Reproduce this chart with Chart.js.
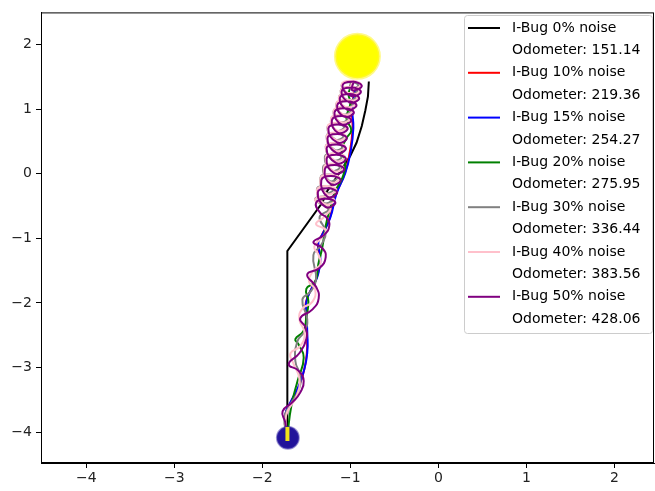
<!DOCTYPE html>
<html>
<head>
<meta charset="utf-8">
<script src="https://cdn.jsdelivr.net/npm/chart.js@4"></script>
<style>
  body { margin: 0; background: #fff; }
  #wrap { width: 655px; height: 491px; }
</style>
</head>
<body>
<div id="wrap"><canvas id="grafico" width="655" height="491"></canvas></div>
<script>
// Datos
const noiseLevels = [0, 10, 15, 20, 30, 40, 50];
const odometer = [151.14, 219.36, 254.27, 275.95, 336.44, 383.56, 428.06];
const colores = ["#000000", "#ff0000", "#0000ff", "#008000", "#808080", "#ffc0cb", "#800080"];
const xTicks = [-4, -3, -2, -1, 0, 1, 2];
const yTicks = [-4, -3, -2, -1, 0, 1, 2];
const startPos = [-1.71, -4.09];
const goalPos = [-0.92, 1.82];

const path0 = [[-1.716,-4.06],[-1.716,-1.196],[-1.318,-0.445],[-1.26,-0.26],[-1.16,-0.06],[-1.07,0.13],
  [-1.0,0.28],[-0.93,0.48],[-0.87,0.74],[-0.83,0.98],[-0.80,1.2],[-0.79,1.43]];

const path10 = [[-1.716,-4.06],[-1.74,-3.75],[-1.67,-3.52],[-1.60,-3.34],[-1.535,-3.09],[-1.495,-2.79],
  [-1.495,-2.45],[-1.505,-2.17],[-1.505,-1.99],[-1.435,-1.76],[-1.38,-1.60],[-1.345,-1.34],[-1.37,-1.07],
  [-1.325,-0.95],[-1.235,-0.69],[-1.17,-0.34],[-1.065,0.0],[-1.01,0.31],[-0.975,0.70],[-0.985,1.0],
  [-0.95,1.31]];

const path15 = [[-1.716,-4.06],[-1.74,-3.74],[-1.67,-3.51],[-1.60,-3.33],[-1.534,-3.08],[-1.49,-2.78],
  [-1.49,-2.44],[-1.50,-2.16],[-1.50,-1.98],[-1.43,-1.75],[-1.375,-1.595],[-1.34,-1.33],[-1.364,-1.06],
  [-1.318,-0.94],[-1.227,-0.675],[-1.16,-0.32],[-1.057,0.015],[-1.0,0.32],[-0.966,0.705],[-0.977,1.01],
  [-0.943,1.32]];

const path20 = [[-1.716,-4.06],[-1.67,-3.59],[-1.60,-3.21],[-1.53,-2.85],[-1.59,-2.64],[-1.625,-2.56],
  [-1.534,-2.44],[-1.50,-2.22],[-1.477,-1.98],[-1.50,-1.78],[-1.40,-1.67],[-1.364,-1.40],[-1.318,-1.135],
  [-1.284,-0.83],[-1.227,-0.52],[-1.18,-0.29],[-1.09,-0.06],[-1.057,0.17],[-1.10,0.35],[-1.045,0.55],
  [-0.99,0.675],[-1.045,0.86],[-1.0,1.09],[-1.02,1.24],[-0.977,1.40]];

const path30 = [[-1.716,-4.06],[-1.75,-3.79],[-1.69,-3.59],[-1.59,-3.36],[-1.57,-3.13],[-1.625,-2.90],
  [-1.60,-2.59],[-1.52,-2.44],[-1.49,-2.25],[-1.545,-1.95],[-1.455,-1.83],[-1.39,-1.64],[-1.42,-1.26],
  [-1.33,-1.10],[-1.28,-0.90],[-1.35,-0.67],[-1.25,-0.55],
  [-1.40,-0.40],[-1.30,-0.35],[-1.21,-0.40],[-1.30,-0.45],
  [-1.38,-0.24],[-1.28,-0.19],[-1.19,-0.24],[-1.28,-0.29],
  [-1.34,-0.06],[-1.24,-0.01],[-1.15,-0.06],[-1.24,-0.11],
  [-1.31,0.10],[-1.21,0.15],[-1.12,0.10],[-1.21,0.05],
  [-1.29,0.26],[-1.19,0.31],[-1.10,0.26],[-1.19,0.21],
  [-1.28,0.42],[-1.18,0.47],[-1.09,0.42],[-1.18,0.37],
  [-1.27,0.58],[-1.17,0.63],[-1.08,0.58],[-1.17,0.53],
  [-1.26,0.72],[-1.16,0.77],[-1.07,0.72],[-1.16,0.67],
  [-1.22,0.85],[-1.12,0.90],[-1.03,0.85],[-1.12,0.80],
  [-1.19,0.97],[-1.09,1.02],[-1.00,0.97],[-1.09,0.92],
  [-1.16,1.08],[-1.06,1.13],[-0.97,1.08],[-1.06,1.03],
  [-1.13,1.19],[-1.03,1.24],[-0.94,1.19],[-1.03,1.14],
  [-1.11,1.29],[-1.01,1.34],[-0.92,1.29],[-1.01,1.24],
  [-1.10,1.37],[-1.00,1.42],[-0.91,1.37],[-1.00,1.32],
  [-0.99,1.44]];

const path40 = [[-1.716,-4.06],[-1.73,-3.74],[-1.61,-3.44],[-1.58,-3.17],[-1.65,-2.93],[-1.68,-2.78],
  [-1.57,-2.67],[-1.52,-2.47],[-1.58,-2.25],[-1.545,-2.09],[-1.43,-1.98],[-1.40,-1.79],[-1.47,-1.67],
  [-1.43,-1.52],[-1.34,-1.40],[-1.36,-1.26],[-1.41,-1.13],[-1.32,-0.98],[-1.28,-0.87],[-1.39,-0.78],
  [-1.30,-0.67],[-1.23,-0.52],
  [-1.40,-0.41],[-1.29,-0.35],[-1.18,-0.41],[-1.29,-0.47],
  [-1.38,-0.25],[-1.27,-0.19],[-1.16,-0.25],[-1.27,-0.31],
  [-1.34,-0.07],[-1.23,-0.01],[-1.12,-0.07],[-1.23,-0.13],
  [-1.30,0.10],[-1.19,0.16],[-1.08,0.10],[-1.19,0.04],
  [-1.28,0.26],[-1.17,0.32],[-1.06,0.26],[-1.17,0.20],
  [-1.28,0.42],[-1.17,0.48],[-1.06,0.42],[-1.17,0.36],
  [-1.27,0.58],[-1.16,0.64],[-1.05,0.58],[-1.16,0.52],
  [-1.26,0.73],[-1.15,0.79],[-1.04,0.73],[-1.15,0.67],
  [-1.22,0.86],[-1.11,0.92],[-1.00,0.86],[-1.11,0.80],
  [-1.19,0.98],[-1.08,1.04],[-0.97,0.98],[-1.08,0.92],
  [-1.16,1.09],[-1.05,1.15],[-0.94,1.09],[-1.05,1.03],
  [-1.13,1.19],[-1.02,1.25],[-0.91,1.19],[-1.02,1.13],
  [-1.11,1.29],[-1.00,1.35],[-0.89,1.29],[-1.00,1.23],
  [-1.10,1.38],[-0.99,1.44],[-0.88,1.38],[-0.99,1.32],
  [-0.97,1.45]];

const path50 = [[-1.716,-4.06],[-1.74,-3.85],[-1.77,-3.68],[-1.66,-3.54],[-1.57,-3.39],[-1.53,-3.21],
  [-1.59,-3.05],[-1.70,-2.95],[-1.58,-2.78],[-1.50,-2.56],[-1.51,-2.38],[-1.57,-2.24],[-1.43,-2.10],
  [-1.36,-1.93],[-1.39,-1.75],[-1.49,-1.56],[-1.35,-1.46],[-1.28,-1.29],[-1.32,-1.15],[-1.42,-1.06],
  [-1.30,-0.95],[-1.24,-0.81],[-1.27,-0.68],[-1.34,-0.61],
  [-1.39,-0.45],[-1.28,-0.385],[-1.17,-0.45],[-1.28,-0.515],
  [-1.37,-0.29],[-1.26,-0.225],[-1.15,-0.29],[-1.26,-0.355],
  [-1.33,-0.10],[-1.22,-0.035],[-1.11,-0.10],[-1.22,-0.165],
  [-1.29,0.07],[-1.18,0.135],[-1.07,0.07],[-1.18,0.005],
  [-1.27,0.23],[-1.16,0.295],[-1.05,0.23],[-1.16,0.165],
  [-1.27,0.39],[-1.16,0.455],[-1.05,0.39],[-1.16,0.325],
  [-1.26,0.55],[-1.15,0.615],[-1.04,0.55],[-1.15,0.485],
  [-1.25,0.70],[-1.14,0.765],[-1.03,0.70],[-1.14,0.635],
  [-1.21,0.83],[-1.10,0.895],[-0.99,0.83],[-1.10,0.765],
  [-1.18,0.95],[-1.07,1.015],[-0.96,0.95],[-1.07,0.885],
  [-1.15,1.06],[-1.04,1.125],[-0.93,1.06],[-1.04,0.995],
  [-1.12,1.17],[-1.01,1.235],[-0.90,1.17],[-1.01,1.105],
  [-1.10,1.27],[-0.99,1.335],[-0.88,1.27],[-0.99,1.205],
  [-1.09,1.36],[-0.98,1.425],[-0.87,1.36],[-0.98,1.295],
  [-0.96,1.44]];

const caminos = [path0, path10, path15, path20, path30, path40, path50];

function aPuntos(arr) {
  return arr.map(function(p) { return { x: p[0], y: p[1] }; });
}

var datasets = [];
for (var i = 0; i < caminos.length; i++) {
  datasets.push({
    label: "I-Bug " + noiseLevels[i] + "% noise",
    data: aPuntos(caminos[i]),
    showLine: true,
    borderColor: colores[i],
    backgroundColor: colores[i],
    borderWidth: 2,
    pointRadius: 0,
    tension: i === 0 ? 0 : 0.5,
    order: 7 - i
  });
}
// marcadores de inicio y meta
datasets.push({
  data: [{ x: goalPos[0], y: goalPos[1] }],
  pointRadius: 22,
  backgroundColor: "#ffff00",
  borderColor: "rgba(255,245,60,0.6)",
  borderWidth: 3,
  order: -1
});
datasets.push({
  data: [{ x: startPos[0], y: startPos[1] }],
  pointRadius: 11,
  backgroundColor: "#22139a",
  borderColor: "rgba(60,45,170,0.5)",
  borderWidth: 2,
  order: -1
});
datasets.push({
  data: [{ x: startPos[0] - 0.005, y: startPos[1] + 0.06 }],
  pointStyle: "line",
  rotation: 90,
  pointRadius: 7,
  borderColor: "#f2e21a",
  borderWidth: 4,
  order: -2
});

// Leyenda dibujada como en matplotlib
const leyenda = {
  id: "leyenda",
  afterDraw: function(chart) {
    const ctx = chart.ctx;
    const x0 = 464, y0 = 15, w = 188, h = 318;
    ctx.save();
    ctx.beginPath();
    ctx.roundRect(x0 + 0.5, y0 + 0.5, w, h, 3);
    ctx.fillStyle = "rgba(255,255,255,0.8)";
    ctx.fill();
    ctx.strokeStyle = "#cccccc";
    ctx.lineWidth = 1;
    ctx.stroke();
    ctx.font = '14px "DejaVu Sans"';
    ctx.textBaseline = "middle";
    ctx.fillStyle = "#000";
    var fila = 0;
    for (var i = 0; i < noiseLevels.length; i++) {
      var y = 28 + fila * 22.4;
      ctx.beginPath();
      ctx.moveTo(468, y);
      ctx.lineTo(500, y);
      ctx.strokeStyle = colores[i];
      ctx.lineWidth = 2;
      ctx.stroke();
      ctx.fillText("I-Bug " + noiseLevels[i] + "% noise", 512, y);
      fila++;
      y = 28 + fila * 22.4;
      ctx.fillText("Odometer: " + odometer[i].toFixed(2), 512, y);
      fila++;
    }
    ctx.restore();
  }
};

// Marco completo
const marco = {
  id: "marco",
  afterDatasetsDraw: function(chart) {
    const a = chart.chartArea;
    const ctx = chart.ctx;
    ctx.save();
    ctx.strokeStyle = "#000";
    ctx.lineWidth = 1;
    ctx.strokeRect(a.left + 0.5, a.top + 0.5, a.right - a.left - 1, a.bottom - a.top - 1);
    ctx.restore();
  }
};

function menos(v) {
  return v < 0 ? "\u2212" + Math.abs(v) : "" + v;
}

new Chart(document.getElementById("grafico"), {
  type: "scatter",
  data: { datasets: datasets },
  options: {
    responsive: false,
    animation: false,
    layout: { autoPadding: false, padding: { top: 8, right: 1, left: 0, bottom: 0 } },
    plugins: { legend: { display: false }, tooltip: { enabled: false } },
    scales: {
      x: {
        type: "linear",
        min: -4.515,
        max: 2.45,
        afterBuildTicks: function(s) { s.ticks = xTicks.map(function(v) { return { value: v }; }); },
        afterFit: function(s) { s.height = 28; },
        ticks: { callback: menos, color: "#222", padding: 2, maxRotation: 0,
                 font: { family: "DejaVu Sans", size: 14 } },
        grid: { drawOnChartArea: false, drawTicks: true, tickLength: 5, color: "#000" },
        border: { display: true, color: "#000" }
      },
      y: {
        type: "linear",
        min: -4.48,
        max: 2.5,
        afterBuildTicks: function(s) { s.ticks = yTicks.map(function(v) { return { value: v }; }); },
        afterFit: function(s) { s.width = 41; },
        ticks: { callback: menos, color: "#222", padding: 4,
                 font: { family: "DejaVu Sans", size: 14 } },
        grid: { drawOnChartArea: false, drawTicks: true, tickLength: 5, color: "#000" },
        border: { display: true, color: "#000" }
      }
    }
  },
  plugins: [marco, leyenda]
});
</script>
</body>
</html>
